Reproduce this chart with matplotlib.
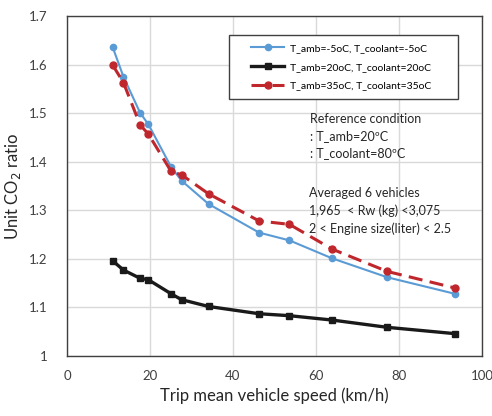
import matplotlib
matplotlib.use('Agg')
from matplotlib import pyplot as plt
from matplotlib.patches import Rectangle

plt.rcParams['font.family'] = ['Lato', 'DejaVu Sans']

speed = [11.0, 13.6, 17.6, 19.6, 25.1, 27.6, 34.1, 46.3, 53.6, 63.9, 77.2, 93.5]
ratio_m5 = [1.636, 1.575, 1.501, 1.477, 1.389, 1.361, 1.313, 1.254, 1.238, 1.201, 1.162, 1.128]
ratio_20 = [1.196, 1.177, 1.160, 1.157, 1.128, 1.116, 1.102, 1.087, 1.083, 1.074, 1.059, 1.046]
ratio_35 = [1.599, 1.563, 1.476, 1.457, 1.380, 1.373, 1.334, 1.278, 1.271, 1.220, 1.174, 1.140]
labels = ['T_amb=-5oC, T_coolant=-5oC',
          'T_amb=20oC, T_coolant=20oC',
          'T_amb=35oC, T_coolant=35oC']

fig = plt.figure(figsize=(4.92, 4.16), dpi=100)
ax = fig.add_axes([67/492, 60/416, 415/492, 340/416])

ax.plot(speed, ratio_m5, color='#5b9bd5', lw=1.5, marker='o', ms=4.5, label=labels[0])
ax.plot(speed, ratio_20, color='#1a1a1a', lw=2.4, marker='s', ms=4.5, label=labels[1])
ax.plot(speed, ratio_35, color='#c0272d', lw=2.2, ls=(0, (4.6, 2.4)), marker='o', ms=5, label=labels[2])

ax.set_xlim(0, 100)
ax.set_ylim(1, 1.7)
ax.set_xticks([0, 20, 40, 60, 80, 100])
ax.set_yticks([1, 1.1, 1.2, 1.3, 1.4, 1.5, 1.6, 1.7])
ax.set_yticklabels(['1', '1.1', '1.2', '1.3', '1.4', '1.5', '1.6', '1.7'])
ax.grid(True, color='#d9d9d9', lw=1)
ax.set_axisbelow(True)
ax.tick_params(length=0, labelsize=9.5, colors='#404040')
ax.tick_params(axis='y', pad=14)
ax.tick_params(axis='x', pad=10)
for s in ax.spines.values():
    s.set_color('#404040')
    s.set_linewidth(1)

ax.set_xlabel('Trip mean vehicle speed (km/h)', fontsize=12, color='#262626', labelpad=4)
ax.set_ylabel('Unit CO$_2$ ratio', fontsize=12, color='#262626', labelpad=4)

# legend box like the spreadsheet one
ax.add_patch(Rectangle((162/415, 257/340), 229/415, 64/340, transform=ax.transAxes,
                       facecolor='white', edgecolor='#404040', lw=1, zorder=4))
leg = ax.legend(loc='center left', bbox_to_anchor=(184/415, 289/340), fontsize=7.5,
                frameon=False, handlelength=3.2, borderpad=0, borderaxespad=0,
                labelspacing=0.9, handletextpad=0.5)
leg.set_zorder(5)

ax.text(58.5, 1.50, 'Reference condition\n: T_amb=20ºC\n: T_coolant=80ºC',
        fontsize=9, color='#262626', va='top', linespacing=1.5)
ax.text(58.3, 1.348, 'Averaged 6 vehicles\n1,965  < Rw (kg) <3,075\n2 < Engine size(liter) < 2.5',
        fontsize=9, color='#262626', va='top', linespacing=1.5)

fig.savefig('out.png', dpi=100)
